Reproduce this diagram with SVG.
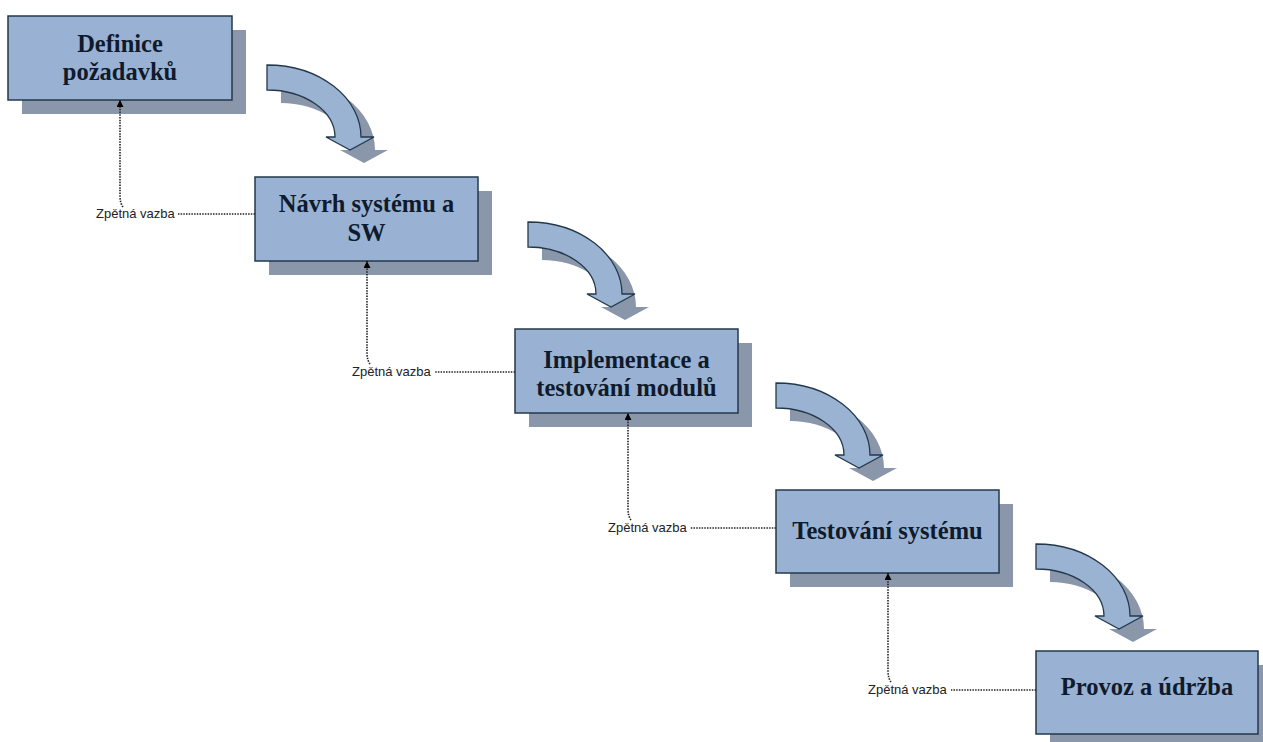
<svg xmlns="http://www.w3.org/2000/svg" width="1263" height="742" viewBox="0 0 1263 742">
  <style>
    .shadow { fill: #8A97AB; }
    .box { fill: #99B2D3; stroke: #23394B; stroke-width: 1.5; }
    .title { font-family: "Liberation Serif", "Times New Roman", serif; font-weight: bold; font-size: 24.5px; fill: #0F1B2D; text-anchor: middle; }
    .flow { fill: #9BB3D3; stroke: #23394B; stroke-width: 1.3; }
    .fb { fill: none; stroke: #222; stroke-width: 1.6; stroke-dasharray: 1.5 1.2; }
    .fblabel { font-family: "Liberation Sans", Arial, sans-serif; font-size: 13px; fill: #222; }
  </style>
  <defs>
    <marker id="tip" viewBox="0 0 10 10" refX="10" refY="5" markerWidth="7" markerHeight="7" markerUnits="userSpaceOnUse" orient="auto">
      <path d="M0,0 L10,5 L0,10 Z" fill="#000"/>
    </marker>
    <!-- curved down arrow, origin at the top-left corner of the shaft -->
    <path id="curve" d="M0,0 A94,72 0 0 1 94,72 L107,72 L83,85 L59,72 L68,72 A68,47 0 0 0 0,25 Z"/>
  </defs>
  <rect width="1263" height="742" fill="#fff"/>

  <!-- flow arrows between phases -->
  <g id="flow-arrows">
    <use href="#curve" class="shadow" x="281" y="78"/>
    <use href="#curve" class="flow" x="267" y="65"/>
    <use href="#curve" class="shadow" x="542" y="235"/>
    <use href="#curve" class="flow" x="528" y="222"/>
    <use href="#curve" class="shadow" x="790" y="396"/>
    <use href="#curve" class="flow" x="776" y="383"/>
    <use href="#curve" class="shadow" x="1050" y="557"/>
    <use href="#curve" class="flow" x="1036" y="544"/>
  </g>

  <g id="node-definice">
    <rect class="shadow" x="22" y="30" width="224" height="84"/>
    <rect class="box" x="8" y="16" width="224" height="84"/>
    <text class="title" x="120" y="52">Definice</text>
    <text class="title" x="120" y="80">požadavků</text>
  </g>

  <g id="node-navrh">
    <rect class="shadow" x="269" y="191" width="223" height="84"/>
    <rect class="box" x="255" y="177" width="223" height="84"/>
    <text class="title" x="366.5" y="212">Návrh systému a</text>
    <text class="title" x="366.5" y="241">SW</text>
  </g>

  <g id="node-implementace">
    <rect class="shadow" x="529" y="343" width="223" height="84"/>
    <rect class="box" x="515" y="329" width="223" height="84"/>
    <text class="title" x="626.5" y="368">Implementace a</text>
    <text class="title" x="626.5" y="396">testování modulů</text>
  </g>

  <g id="node-testovani">
    <rect class="shadow" x="790" y="504" width="223" height="83"/>
    <rect class="box" x="776" y="490" width="223" height="83"/>
    <text class="title" x="887.5" y="539">Testování systému</text>
  </g>

  <g id="node-provoz">
    <rect class="shadow" x="1050" y="665" width="222" height="84"/>
    <rect class="box" x="1036" y="651" width="222" height="83"/>
    <text class="title" x="1147" y="695">Provoz a údržba</text>
  </g>

  <!-- feedback links -->
  <g id="feedback">
    <path class="fb" d="M255,214 L178,214"/>
    <path class="fb" d="M123,207 Q120,203 120,196 L120,100" marker-end="url(#tip)"/>
    <text class="fblabel" x="96" y="218">Zpětná vazba</text>

    <path class="fb" d="M515,372 L434,372"/>
    <path class="fb" d="M370,364 Q367,360 367,353 L367,261" marker-end="url(#tip)"/>
    <text class="fblabel" x="352" y="376">Zpětná vazba</text>

    <path class="fb" d="M776,528 L690,528"/>
    <path class="fb" d="M631,520 Q628,516 628,509 L628,413" marker-end="url(#tip)"/>
    <text class="fblabel" x="608" y="532">Zpětná vazba</text>

    <path class="fb" d="M1036,690 L951,690"/>
    <path class="fb" d="M891,682 Q888,678 888,671 L888,573" marker-end="url(#tip)"/>
    <text class="fblabel" x="868" y="694">Zpětná vazba</text>
  </g>
</svg>
